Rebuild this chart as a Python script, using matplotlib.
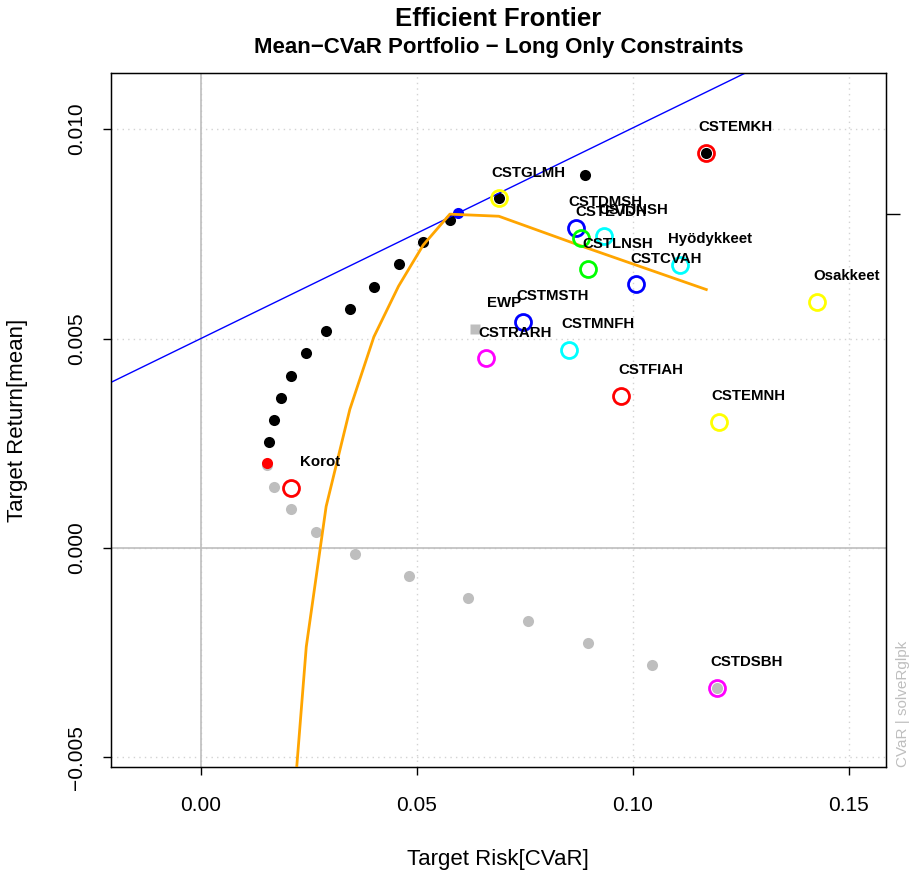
import matplotlib
matplotlib.use("Agg")
import matplotlib.pyplot as plt
import numpy as np

plt.rcParams["font.family"] = ["Liberation Sans", "DejaVu Sans"]

# efficient frontier (upper part, black) and lower part (grey)
front_risk = [0.01574, 0.01683, 0.01845, 0.02083, 0.02438, 0.02900, 0.03449,
              0.04005, 0.04576, 0.05146, 0.05764, 0.06898, 0.08889, 0.11690]
front_ret = [0.00253, 0.00305, 0.00358, 0.00411, 0.00465, 0.00518, 0.00570,
             0.00624, 0.00677, 0.00730, 0.00783, 0.00835, 0.00890, 0.00943]
low_risk = [0.01528, 0.01690, 0.02083, 0.02662, 0.03565, 0.04815, 0.06180,
            0.07570, 0.08960, 0.10440, 0.11940]
low_ret = [0.00198, 0.00146, 0.00093, 0.00038, -0.00014, -0.00067, -0.00119,
           -0.00174, -0.00227, -0.00279, -0.00334]

minvar = (0.01528, 0.00203)
tangency = (0.05942, 0.00799)
ewp = (0.0634, 0.00523)

# tangent (capital market) line
rf = 0.005
cml_slope = 0.0503

# scaled Sharpe ratio line
sharpe_risk = [0.02083, 0.0244, 0.0290, 0.03449, 0.04005, 0.04576, 0.05146,
               0.05764, 0.06898, 0.08889, 0.1170]
sharpe_val = [-0.0070, -0.00236, 0.00099, 0.00331, 0.00504, 0.00625, 0.00723,
              0.00797, 0.00792, 0.00718, 0.00617]

# single assets
asset_names = ["CSTEMKH", "CSTGLMH", "CSTDMSH", "CSTEVDH", "CSTJNSH", "CSTLNSH",
               "Hyödykkeet", "CSTCVAH", "Osakkeet", "CSTMSTH", "CSTRARH",
               "CSTMNFH", "CSTFIAH", "CSTEMNH", "CSTDSBH", "Korot"]
asset_risk = [0.1169, 0.06898, 0.08674, 0.0880, 0.09329, 0.08951,
              0.1109, 0.10076, 0.14259, 0.07447, 0.0659,
              0.08512, 0.09722, 0.1199, 0.11944, 0.02076]
asset_ret = [0.00943, 0.00835, 0.00764, 0.00741, 0.007446, 0.006652,
             0.006754, 0.006294, 0.005871, 0.005401, 0.004527,
             0.004733, 0.003628, 0.003007, -0.003341, 0.001439]
asset_col = ["#FF0000", "#FFFF00", "#0000FF", "#00FF00", "#00FFFF", "#00FF00",
             "#00FFFF", "#0000FF", "#FFFF00", "#0000FF", "#FF00FF",
             "#00FFFF", "#FF0000", "#FFFF00", "#FF00FF", "#FF0000"]

xticks = [0.00, 0.05, 0.10, 0.15]
yticks = [-0.005, 0.000, 0.005, 0.010]

fig = plt.figure(figsize=(9.1, 8.77), dpi=100)
ax = fig.add_axes([111 / 910, 1 - 767 / 877, 775 / 910, 694 / 877])
ax.set_xlim(-0.0208, 0.1586)
ax.set_ylim(-0.00523, 0.01134)

# grid + zero lines
for xv in xticks:
    ax.axvline(xv, color="#D3D3D3", lw=1, ls=(0, (1, 3)), zorder=0)
for yv in yticks:
    ax.axhline(yv, color="#D3D3D3", lw=1, ls=(0, (1, 3)), zorder=0)
ax.axhline(0, color="#BEBEBE", lw=1.2, zorder=0.5)
ax.axvline(0, color="#BEBEBE", lw=1.2, zorder=0.5)

# frontier
ax.plot(low_risk, low_ret, "o", color="#BEBEBE", ms=8, mec="none", zorder=2)
ax.plot(front_risk, front_ret, "o", color="black", ms=8, mec="none", zorder=2)
ax.plot(*minvar, "o", color="#FF0000", ms=8, mec="none", zorder=3)

ax.axline((0, rf), slope=cml_slope, color="#0000FF", lw=1, zorder=3)
ax.plot(*tangency, "o", color="#0000FF", ms=8, mec="none", zorder=3)

ax.plot(sharpe_risk, sharpe_val, color="#FFA500", lw=2, zorder=3)

# equal weights portfolio
ax.plot(*ewp, "s", color="#BEBEBE", ms=7, mec="none", zorder=3)
ax.annotate("EWP", ewp, xytext=(21, 19), textcoords="offset points",
            ha="center", va="center", fontsize=10.8, fontweight="bold")

# assets
for name, xr, yr, c in zip(asset_names, asset_risk, asset_ret, asset_col):
    ax.plot(xr, yr, "o", mfc="none", mec=c, mew=2, ms=11.5, zorder=4)
    ax.annotate(name, (xr, yr), xytext=(21.5, 18.5), textcoords="offset points",
                ha="center", va="center", fontsize=10.8, fontweight="bold",
                zorder=5)

ax.set_xticks(xticks)
ax.set_xticklabels(["0.00", "0.05", "0.10", "0.15"])
ax.set_yticks(yticks)
ax.set_yticklabels(["\u22120.005", "0.000", "0.005", "0.010"], rotation=90,
                   va="center")
ax.tick_params(axis="x", length=6, width=1, labelsize=15, pad=15)
ax.tick_params(axis="y", length=6, width=1, labelsize=15, pad=12)
for s in ax.spines.values():
    s.set_linewidth(1)

# right-hand tick at the scaled maximum Sharpe ratio
ax2 = ax.twinx()
ax2.set_ylim(ax.get_ylim())
ax2.set_yticks([max(sharpe_val)])
ax2.set_yticklabels([""])
ax2.tick_params(axis="y", length=10, width=1)

fig.text(498 / 910, 1 - 860 / 877, "Target Risk[CVaR]", ha="center",
         va="center", fontsize=16)
fig.text(18 / 910, 1 - 420 / 877, "Target Return[mean]", ha="center",
         va="center", rotation=90, fontsize=16)

fig.text(498.5 / 910, 1 - 19 / 877, "Efficient Frontier", ha="center",
         va="center", fontsize=18.5, fontweight="bold")
fig.text(498.5 / 910, 1 - 47 / 877,
         "Mean\u2212CVaR Portfolio \u2212 Long Only Constraints",
         ha="center", va="center", fontsize=16, fontweight="bold")
fig.text(903 / 910, 1 - 767 / 877, "CVaR | solveRglpk", rotation=90,
         ha="center", va="bottom", fontsize=11, color="#BEBEBE")

fig.savefig("out.png", dpi=100)
